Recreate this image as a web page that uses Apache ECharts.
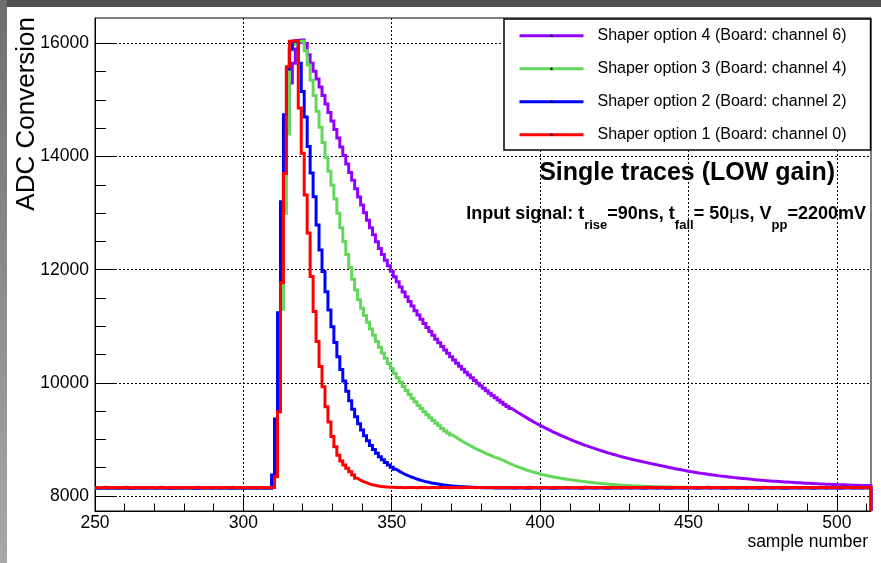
<!DOCTYPE html>
<html>
<head>
<meta charset="utf-8">
<script src="https://cdn.jsdelivr.net/npm/echarts@6/dist/echarts.min.js"></script>
<style>html,body{margin:0;padding:0;background:#fff}#c{width:881px;height:563px}</style>
</head>
<body>
<div id="c"></div>
<script>
// ---------- axis definitions ----------
const X_MIN = 250, X_MAX = 511.5, LAST_BIN = 511;
const Y_MIN = 7735, Y_MAX = 16450;
const xMajorTicks = [250, 300, 350, 400, 450, 500];
const xMinorTicks = [260, 270, 280, 290, 310, 320, 330, 340, 360, 370, 380, 390, 410, 420, 430, 440, 460, 470, 480, 490, 510];
const yMajorTicks = [8000, 10000, 12000, 14000, 16000];
const yMinorTicks = [8500, 9000, 9500, 10500, 11000, 11500, 12500, 13000, 13500, 14500, 15000, 15500];

const seriesNames = [
  'Shaper option 4 (Board: channel 6)',
  'Shaper option 3 (Board: channel 4)',
  'Shaper option 2 (Board: channel 2)',
  'Shaper option 1 (Board: channel 0)'
];
const seriesColors = ['#9400ff', '#62d85a', '#0000ff', '#ff0000'];

// ---------- data: ADC value per sample bin ----------
// Shaper option 4 (purple)
const purpleBase = [ // bins 250-309
8136,8134,8138,8136,8132,8136,8138,8134,8136,8140,
8136,8134,8132,8136,8138,8136,8134,8136,8138,8136,
8134,8136,8138,8136,8132,8134,8136,8138,8136,8134,
8136,8138,8136,8134,8136,8132,8136,8138,8136,8134,
8136,8138,8134,8136,8136,8132,8134,8136,8138,8136,
8134,8136,8138,8136,8134,8136,8138,8134,8136,8136];
const purplePulse = [ // bins 310-511
8230,8650,9900,11800,13700,14500,15300,15650,15900,16020,
16060,16000,15800,15650,15510,15370,15230,15080,14930,14780,
14630,14480,14330,14170,14020,13870,13720,13580,13431,13286,
13145,13007,12874,12744,12618,12495,12376,12271,12169,12070,
11973,11878,11786,11696,11608,11522,11438,11357,11277,11200,
11124,11050,10978,10908,10840,10773,10708,10644,10582,10522,
10463,10405,10349,10295,10241,10189,10139,10089,10041,9994,
9948,9903,9860,9817,9776,9735,9696,9657,9619,9583,
9547,9512,9478,9445,9413,9381,9350,9320,9291,9263,
9235,9208,9181,9155,9130,9106,9082,9058,9035,9013,
8992,8970,8950,8930,8910,8891,8873,8854,8837,8819,
8802,8786,8770,8754,8739,8724,8710,8695,8682,8668,
8655,8642,8630,8618,8606,8594,8583,8572,8561,8550,
8540,8528,8516,8505,8494,8483,8473,8463,8453,8443,
8434,8425,8417,8408,8400,8392,8385,8377,8370,8363,
8356,8350,8343,8337,8331,8325,8320,8314,8309,8304,
8299,8294,8289,8284,8280,8276,8271,8267,8263,8260,
8256,8252,8249,8246,8242,8239,8236,8233,8230,8227,
8224,8222,8219,8217,8214,8212,8210,8207,8205,8203,
8201,8199,8197,8195,8194,8192,8190,8189,8187,8185,
8184,8183];

// Shaper option 3 (green)
const greenBase = [ // bins 250-309
8138,8140,8136,8138,8140,8142,8138,8136,8140,8138,
8136,8140,8138,8142,8138,8140,8136,8138,8140,8138,
8142,8138,8136,8140,8138,8140,8142,8138,8136,8140,
8138,8136,8140,8138,8142,8138,8140,8136,8138,8140,
8138,8140,8142,8138,8136,8140,8138,8136,8140,8142,
8138,8140,8136,8138,8140,8138,8142,8136,8138,8140];
const greenPulse = [ // bins 310-448
8210,8560,9600,11300,13000,14400,15880,15980,16020,16040,
16040,15870,15620,15350,15080,14800,14520,14250,13990,13740,
13500,13250,13000,12740,12500,12270,12040,11830,11640,11470,
11320,11193,11071,10953,10841,10733,10629,10530,10434,10342,
10254,10170,10089,10011,9936,9864,9795,9729,9665,9604,
9546,9489,9436,9384,9334,9286,9240,9193,9151,9114,
9078,9043,9010,8978,8947,8917,8888,8860,8834,8808,
8783,8760,8737,8715,8693,8673,8653,8634,8608,8583,
8560,8537,8516,8496,8477,8459,8442,8426,8411,8397,
8383,8370,8359,8348,8337,8327,8318,8309,8301,8293,
8285,8278,8271,8264,8258,8252,8245,8238,8232,8226,
8221,8216,8211,8206,8202,8198,8194,8191,8188,8185,
8182,8179,8177,8175,8173,8171,8169,8167,8165,8164,
8162,8161,8160,8159,8158,8157,8156,8155,8154];
const greenTail = [ // bins 449-511
8154,8153,8152,8154,8152,8150,8152,8154,8152,8150,
8152,8154,8152,8150,8152,8154,8156,8152,8150,8152,
8154,8152,8150,8152,8154,8152,8150,8152,8156,8152,
8150,8152,8154,8152,8150,8152,8154,8152,8150,8154,
8152,8150,8152,8154,8152,8150,8152,8156,8152,8150,
8152,8154,8152,8150,8152,8154,8152,8150,8152,8154,
8152,8150,8152];

// Shaper option 2 (blue)
const blueBase = [ // bins 250-309
8140,8138,8142,8140,8136,8140,8142,8138,8140,8144,
8140,8138,8136,8140,8142,8140,8138,8140,8142,8140,
8138,8140,8142,8140,8136,8138,8140,8142,8140,8138,
8140,8142,8140,8138,8140,8136,8140,8142,8140,8138,
8140,8142,8138,8140,8140,8136,8138,8140,8142,8140,
8138,8140,8142,8140,8138,8140,8142,8138,8140,8140];
const bluePulse = [ // bins 310-380
8370,9360,11240,13200,14740,15550,15900,16040,16050,15650,
15150,14700,14180,13710,13290,12790,12350,11970,11610,11290,
10990,10713,10463,10238,10034,9850,9684,9534,9399,9276,
9166,9066,8976,8895,8821,8755,8695,8641,8592,8548,
8508,8472,8440,8411,8384,8360,8339,8319,8300,8283,
8268,8254,8242,8230,8220,8211,8203,8196,8189,8183,
8178,8173,8169,8165,8162,8159,8156,8153,8151,8149,
8147];
const blueTail = [ // bins 381-511
8146,8145,8144,8143,8142,8142,8141,8140,8142,8140,
8138,8140,8142,8140,8138,8136,8140,8142,8140,8138,
8140,8142,8138,8140,8136,8140,8142,8140,8138,8140,
8142,8140,8138,8136,8140,8142,8140,8138,8140,8142,
8140,8136,8138,8140,8142,8140,8138,8140,8142,8138,
8140,8142,8140,8136,8138,8140,8142,8140,8138,8140,
8142,8138,8140,8136,8140,8142,8140,8138,8140,8142,
8140,8138,8136,8140,8142,8140,8138,8140,8142,8140,
8136,8138,8140,8142,8140,8138,8140,8142,8138,8140,
8142,8140,8136,8138,8140,8142,8140,8138,8140,8142,
8138,8140,8136,8140,8142,8140,8138,8140,8142,8140,
8138,8136,8140,8142,8140,8138,8140,8142,8140,8136,
8138,8140,8142,8140,8138,8140,8142,8138,8140,8142,
8140];

// Shaper option 1 (red)
const redBase = [ // bins 250-309
8152,8148,8150,8154,8150,8146,8150,8152,8148,8150,
8154,8150,8148,8150,8152,8150,8146,8150,8152,8150,
8148,8150,8154,8150,8148,8152,8150,8146,8150,8152,
8150,8148,8150,8152,8154,8150,8148,8150,8146,8150,
8152,8150,8148,8150,8152,8150,8154,8148,8150,8152,
8150,8146,8150,8152,8148,8150,8152,8150,8148,8150];
const redPulse = [ // bins 310-349
8150,8340,9490,11770,13700,15590,16040,16050,16040,14860,
14060,13320,12650,11880,11260,10730,10290,9930,9580,9310,
9050,8870,8720,8620,8550,8490,8430,8370,8313,8280,
8255,8235,8215,8200,8188,8177,8170,8165,8160,8157];
const redTail = [ // bins 350-511
8155,8152,8150,8152,8148,8150,8152,8150,8148,8150,
8152,8150,8148,8152,8150,8146,8150,8152,8150,8148,
8150,8152,8150,8148,8150,8152,8154,8150,8148,8150,
8152,8150,8146,8150,8152,8150,8148,8150,8152,8150,
8148,8150,8152,8150,8148,8150,8154,8152,8150,8148,
8150,8152,8150,8146,8150,8152,8150,8148,8150,8152,
8150,8148,8150,8152,8150,8154,8150,8148,8150,8152,
8150,8146,8150,8152,8150,8148,8150,8152,8150,8148,
8150,8152,8150,8148,8150,8152,8154,8150,8148,8150,
8152,8150,8146,8150,8152,8150,8148,8150,8152,8150,
8148,8150,8152,8150,8148,8150,8154,8152,8150,8148,
8150,8152,8150,8146,8150,8152,8150,8148,8150,8152,
8150,8148,8150,8152,8150,8154,8150,8148,8150,8152,
8150,8146,8150,8152,8150,8148,8150,8152,8150,8148,
8150,8152,8150,8148,8150,8152,8154,8150,8148,8150,
8152,8150,8146,8150,8152,8150,8148,8150,8152,8150,
8152,8150];

// segments: [first bin, values]
const purpleSegments = [[250, purpleBase], [310, purplePulse]];
const greenSegments  = [[250, greenBase], [310, greenPulse], [449, greenTail]];
const blueSegments   = [[250, blueBase], [310, bluePulse], [381, blueTail]];
const redSegments    = [[250, redBase], [310, redPulse], [350, redTail]];

// build histogram outline points: [low edge of bin, value]
function histPoints(segments) {
  const pts = [];
  segments.forEach(function (seg, si) {
    const start = seg[0], vals = seg[1];
    const nextStart = si + 1 < segments.length ? segments[si + 1][0] : LAST_BIN + 1;
    vals.forEach(function (v, i) {
      const bin = start + i;
      if (bin >= nextStart || bin > LAST_BIN) return;
      pts.push([Math.max(X_MIN, bin - 0.5), v]);
    });
  });
  const last = pts[pts.length - 1][1];
  pts.push([X_MAX, last]);
  pts.push([X_MAX, Y_MIN]);
  return pts;
}

const FONT = "'Liberation Sans', Arial, Helvetica, sans-serif";
const allSegments = [purpleSegments, greenSegments, blueSegments, redSegments];

const series = allSegments.map(function (segs, i) {
  return {
    type: 'line',
    name: seriesNames[i],
    data: histPoints(segs),
    step: 'end',
    showSymbol: false,
    symbol: 'none',
    color: seriesColors[i],
    lineStyle: { width: 3, color: seriesColors[i], join: 'miter' },
    xAxisIndex: 0,
    yAxisIndex: 0,
    z: 2 + i,
    animation: false
  };
});

const chart = echarts.init(document.getElementById('c'), null, { renderer: 'canvas' });

const option = {
  animation: false,
  backgroundColor: '#ffffff',
  textStyle: { fontFamily: FONT },
  grid: {
    left: 95, right: 10, top: 18, bottom: 52,
    show: true, borderColor: '#000', borderWidth: 1, backgroundColor: 'transparent'
  },
  legend: {
    orient: 'vertical',
    left: 504, top: 19,
    data: seriesNames,
    itemWidth: 64, itemHeight: 3, itemGap: 17,
    padding: [8.7, 24, 7.3, 14],
    backgroundColor: '#fff',
    borderColor: '#000', borderWidth: 1.5, borderRadius: 0,
    selectedMode: false,
    lineStyle: { width: 3 },
    itemStyle: { color: '#000', borderWidth: 0 },
    textStyle: { fontSize: 16, color: '#000', fontFamily: FONT, lineHeight: 16, padding: [0, 0, 0, 9] }
  },
  xAxis: [
    {
      type: 'value', min: X_MIN, max: X_MAX, position: 'bottom',
      axisLine: { show: true, onZero: false, lineStyle: { color: '#000', width: 1 } },
      axisTick: { show: true, inside: true, length: 15, customValues: xMajorTicks, lineStyle: { color: '#000', width: 1 } },
      axisLabel: { show: true, customValues: xMajorTicks, fontSize: 17.5, color: '#000', margin: 3, fontFamily: FONT, formatter: function (v) { return String(v); } },
      splitLine: { show: true, lineStyle: { color: '#000', width: 1, type: [2, 2] } },
      minorTick: { show: false }
    },
    {
      type: 'value', min: X_MIN, max: X_MAX, position: 'bottom',
      axisLine: { show: false, onZero: false },
      axisTick: { show: true, inside: true, length: 7.5, customValues: xMinorTicks, lineStyle: { color: '#000', width: 1 } },
      axisLabel: { show: false },
      splitLine: { show: false }
    }
  ],
  yAxis: [
    {
      type: 'value', min: Y_MIN, max: Y_MAX, position: 'left',
      axisLine: { show: true, onZero: false, lineStyle: { color: '#000', width: 1 } },
      axisTick: { show: true, inside: true, length: 22, customValues: yMajorTicks, lineStyle: { color: '#000', width: 1 } },
      axisLabel: { show: true, customValues: yMajorTicks, fontSize: 17.5, color: '#000', margin: 6, fontFamily: FONT, formatter: function (v) { return String(v); } },
      splitLine: { show: true, lineStyle: { color: '#000', width: 1, type: [2, 2] } }
    },
    {
      type: 'value', min: Y_MIN, max: Y_MAX, position: 'left', offset: 0,
      axisLine: { show: false, onZero: false },
      axisTick: { show: true, inside: true, length: 11, customValues: yMinorTicks, lineStyle: { color: '#000', width: 1 } },
      axisLabel: { show: false },
      splitLine: { show: false }
    }
  ],
  series: series,
  graphic: [
    { type: 'rect', left: 0, top: 0, z: 100, silent: true, shape: { width: 881, height: 7 }, style: { fill: '#505050' } },
    { type: 'rect', left: 0, top: 0, z: 100, silent: true, shape: { width: 7, height: 563 },
      style: { fill: new echarts.graphic.LinearGradient(0, 0, 0, 1, [{ offset: 0, color: '#6f6f6f' }, { offset: 1, color: '#a8a8a8' }]) } },
    { type: 'text', x: 27, y: 17, rotation: Math.PI / 2, z: 100, silent: true,
      style: { text: 'ADC Conversion', fontSize: 26, fontFamily: FONT, fill: '#000', align: 'right', verticalAlign: 'middle' } },
    { type: 'text', x: 868, y: 542, z: 100, silent: true,
      style: { text: 'sample number', fontSize: 17.5, fontFamily: FONT, fill: '#000', align: 'right', verticalAlign: 'middle' } },
    { type: 'text', x: 835, y: 173, z: 100, silent: true,
      style: { text: 'Single traces (LOW gain)', fontSize: 25, fontWeight: 'bold', fontFamily: FONT, fill: '#000', align: 'right', verticalAlign: 'middle' } },
    { type: 'text', x: 866, y: 214, z: 100, silent: true,
      style: {
        text: '{m|Input signal: t}{s|rise}{m|=90ns, t}{s|fall}{m|= 50}{u|μ}{m|s, V}{s|pp}{m|=2200mV}',
        align: 'right', verticalAlign: 'middle', fill: '#000',
        rich: {
          m: { fontSize: 18, fontWeight: 'bold', fontFamily: FONT, lineHeight: 35, fill: '#000' },
          u: { fontSize: 18, fontWeight: 'normal', fontFamily: FONT, lineHeight: 35, fill: '#000' },
          s: { fontSize: 13, fontWeight: 'bold', fontFamily: FONT, lineHeight: 2, verticalAlign: 'bottom', fill: '#000' }
        }
      } }
  ]
};

chart.setOption(option);
</script>
</body>
</html>
